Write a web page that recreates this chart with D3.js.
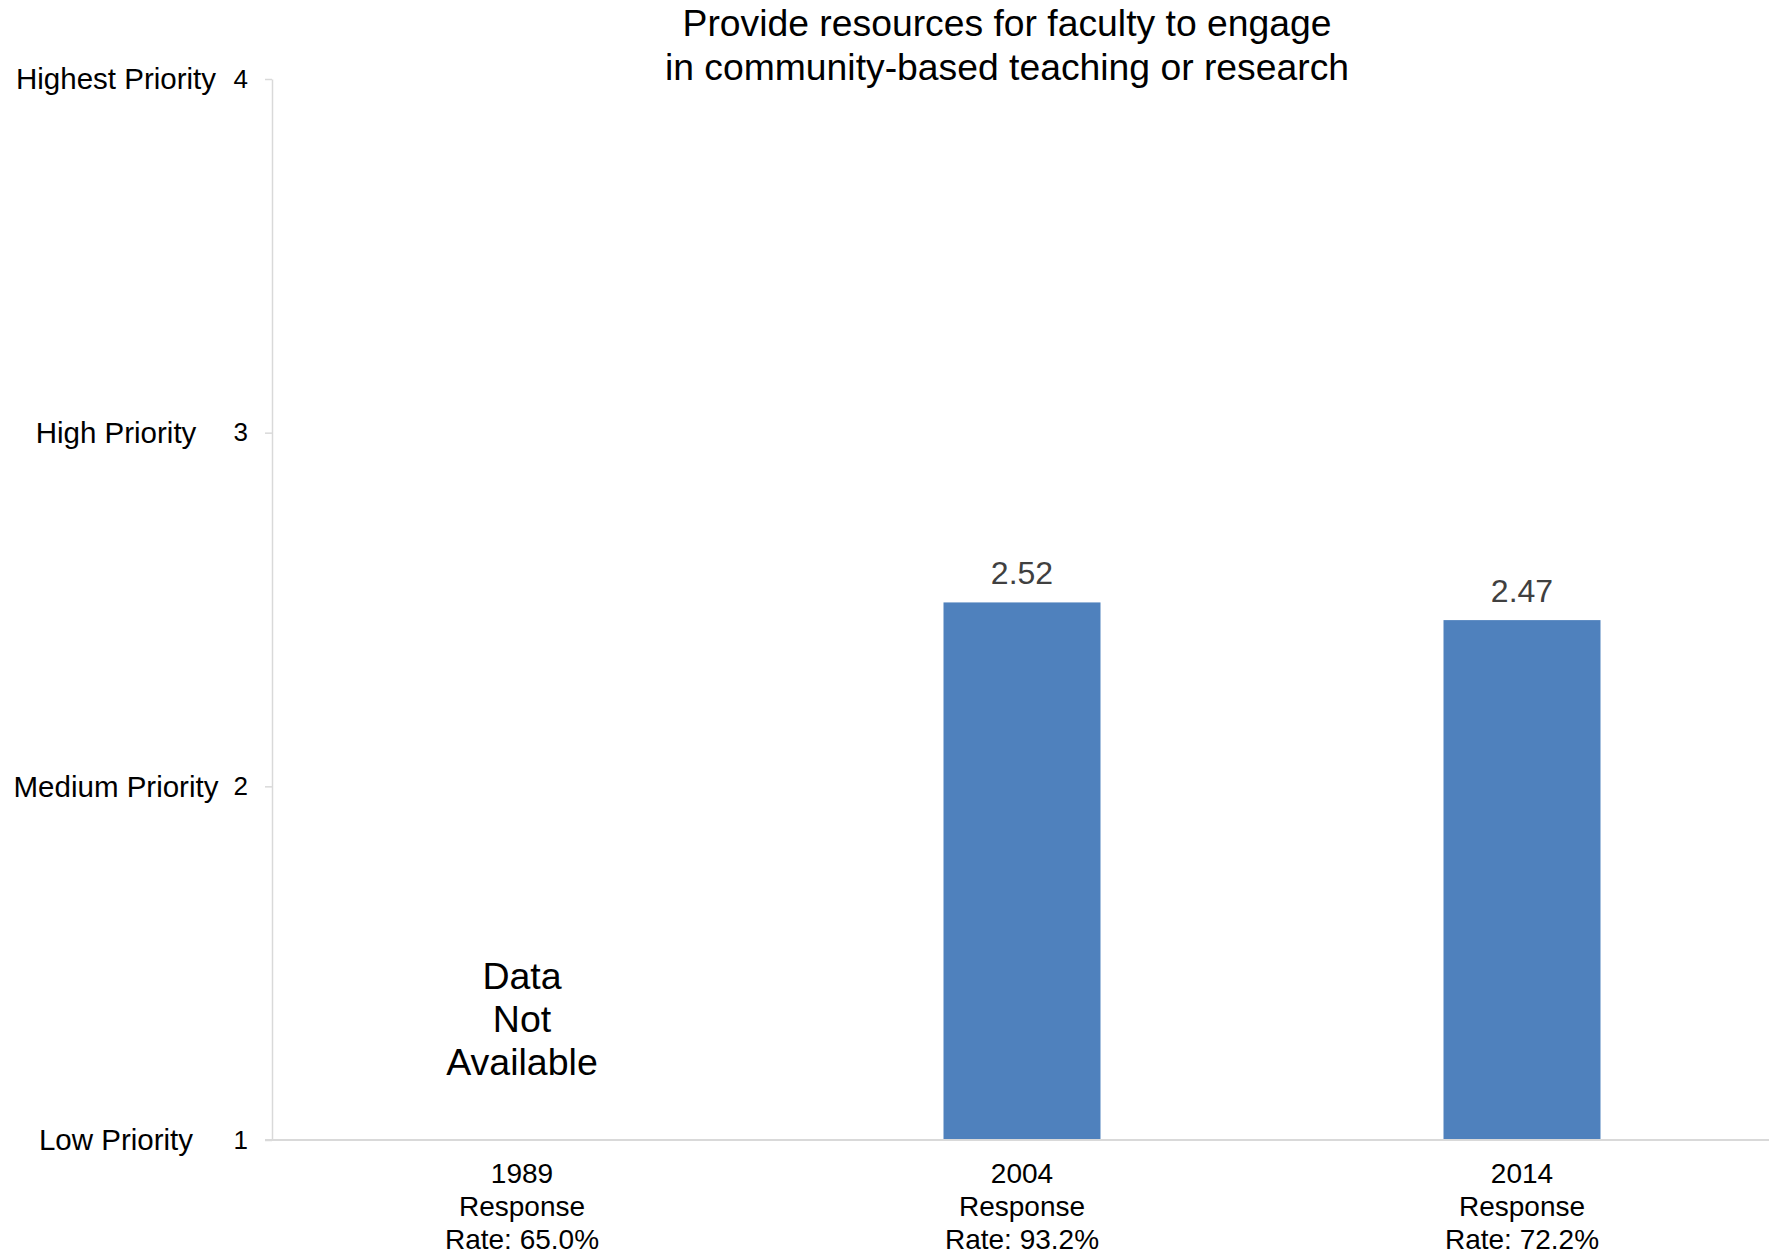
<!DOCTYPE html>
<html>
<head>
<meta charset="utf-8">
<script src="https://cdn.jsdelivr.net/npm/d3@7"></script>
<style>
  body { margin: 0; background: #fff; }
  text { font-family: "Liberation Sans", Arial, sans-serif; }
</style>
</head>
<body>
<svg id="chart" width="1769" height="1255"></svg>
<script>
// data
const years = ["1989", "2004", "2014"];
const responseRates = ["65.0%", "93.2%", "72.2%"];
const scores = [null, 2.52, 2.47];
const tickValues = [1, 2, 3, 4];
const tickNames = ["Low Priority", "Medium Priority", "High Priority", "Highest Priority"];
const titleLines = ["Provide resources for faculty to engage", "in community-based teaching or research"];
const missingLines = ["Data", "Not", "Available"];

const margin = { top: 79, right: -3, bottom: 115, left: 272 };
const width = 1769, height = 1255;

const svg = d3.select("#chart");

const x = d3.scaleBand()
  .domain(years)
  .range([margin.left, width - margin.right])
  .padding(0);

const y = d3.scaleLinear()
  .domain([1, 4])
  .range([height - margin.bottom, margin.top]);

const barW = x.bandwidth() * 0.314;

// y axis
const yAxis = svg.append("g")
  .attr("transform", `translate(${margin.left},0)`)
  .call(d3.axisLeft(y).tickValues(tickValues).tickFormat(d3.format("d")).tickSize(7).tickSizeOuter(0).tickPadding(17));
yAxis.select(".domain").attr("stroke", "#d9d9d9").attr("stroke-width", 1.5);
yAxis.selectAll(".tick line").attr("stroke", "#d9d9d9").attr("stroke-width", 1.5);
yAxis.selectAll(".tick text").attr("font-size", 26).attr("fill", "#000")
  .attr("font-family", "Liberation Sans, Arial, sans-serif");

// priority names
svg.append("g").selectAll("text")
  .data(tickValues)
  .join("text")
  .attr("x", 116)
  .attr("y", d => y(d))
  .attr("dy", "0.35em")
  .attr("text-anchor", "middle")
  .attr("font-size", 29.5)
  .attr("fill", "#000")
  .text((d, i) => tickNames[i]);

// bars
svg.append("g").selectAll("rect")
  .data(years.map((yr, i) => ({ yr, v: scores[i] })).filter(d => d.v != null))
  .join("rect")
  .attr("x", d => x(d.yr) + x.bandwidth() / 2 - barW / 2)
  .attr("y", d => y(d.v))
  .attr("width", barW)
  .attr("height", d => y(1) - y(d.v))
  .attr("fill", "#4f81bd");

// value labels
svg.append("g").selectAll("text")
  .data(years.map((yr, i) => ({ yr, v: scores[i] })).filter(d => d.v != null))
  .join("text")
  .attr("x", d => x(d.yr) + x.bandwidth() / 2)
  .attr("y", d => y(d.v) - 18)
  .attr("text-anchor", "middle")
  .attr("font-size", 32)
  .attr("fill", "#404040")
  .text(d => d.v.toFixed(2));

// x axis baseline
svg.append("line")
  .attr("x1", margin.left - 7)
  .attr("x2", width)
  .attr("y1", y(1))
  .attr("y2", y(1))
  .attr("stroke", "#d9d9d9")
  .attr("stroke-width", 2);

// category labels
const xl = svg.append("g").selectAll("text")
  .data(years)
  .join("text")
  .attr("text-anchor", "middle")
  .attr("font-size", 28)
  .attr("fill", "#000");
xl.each(function (d, i) {
  const t = d3.select(this);
  const cx = x(d) + x.bandwidth() / 2;
  [d, "Response", "Rate: " + responseRates[i]].forEach((s, j) => {
    t.append("tspan").attr("x", cx).attr("y", y(1) + 43 + j * 33).text(s);
  });
});

// missing data note
const missIdx = scores.findIndex(v => v == null);
const mt = svg.append("text")
  .attr("text-anchor", "middle")
  .attr("font-size", 37.5)
  .attr("fill", "#000");
missingLines.forEach((s, j) => {
  mt.append("tspan")
    .attr("x", x(years[missIdx]) + x.bandwidth() / 2)
    .attr("y", 989 + j * 43)
    .text(s);
});

// title
const tt = svg.append("text")
  .attr("text-anchor", "middle")
  .attr("font-size", 37.3)
  .attr("fill", "#000");
titleLines.forEach((s, j) => {
  tt.append("tspan").attr("x", 1007).attr("y", 36 + j * 44).text(s);
});
</script>
</body>
</html>
